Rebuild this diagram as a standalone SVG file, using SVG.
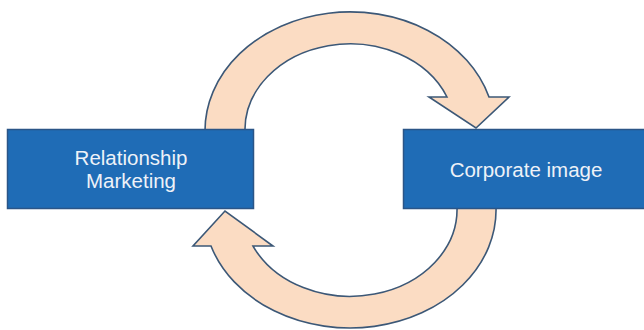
<svg xmlns="http://www.w3.org/2000/svg" width="644" height="330" viewBox="0 0 644 330">
  <style>
    .box { fill: #1f6cb6; stroke: #2b5587; stroke-width: 1.5; }
    .label { font-family: "Liberation Sans", Arial, sans-serif; font-size: 20.5px; fill: #eef2f8; text-anchor: middle; }
    .arc { fill: #fbdcc3; stroke: #3c5877; stroke-width: 1.6; stroke-linejoin: miter; }
  </style>
  <rect width="644" height="330" fill="#ffffff"/>

  <!-- curved block arrows linking the two boxes -->
  <g id="connectors">
    <!-- upper arrow: from Relationship Marketing over to Corporate image -->
    <path class="arc" d="M205,132 A145,119 0 0 1 489,97 L509,97 L476,128 L429,97 L447,97 A105,86 0 0 0 245,132 Z"/>
    <!-- lower arrow: from Corporate image back under to Relationship Marketing -->
    <path class="arc" d="M496,207 A146,118 0 0 1 211,246 L193,246 L225,211 L273,246 L253,246 A107,87 0 0 0 457,207 Z"/>
  </g>

  <g id="node-relationship-marketing">
    <rect class="box" x="7.5" y="129.5" width="246" height="79"/>
    <text class="label" x="131" y="165">Relationship</text>
    <text class="label" x="131" y="188">Marketing</text>
  </g>

  <g id="node-corporate-image">
    <rect class="box" x="403.5" y="129.5" width="250" height="79"/>
    <text class="label" x="526" y="177">Corporate image</text>
  </g>
</svg>
